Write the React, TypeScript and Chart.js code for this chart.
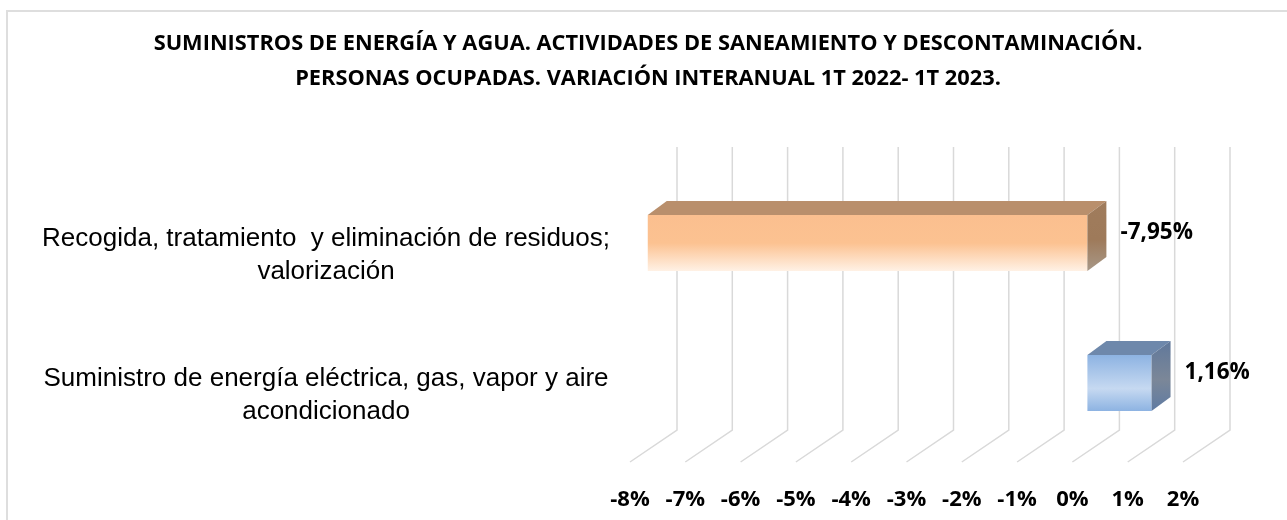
import React, { useEffect, useRef } from "react";
import { Chart, registerables } from "chart.js";

Chart.register(...registerables);

const titleLines = [
  "SUMINISTROS DE ENERGÍA Y AGUA. ACTIVIDADES DE SANEAMIENTO Y DESCONTAMINACIÓN.",
  "PERSONAS OCUPADAS. VARIACIÓN INTERANUAL 1T 2022- 1T 2023.",
];
const categories = [
  ["Recogida, tratamiento  y eliminación de residuos;", "valorización"],
  ["Suministro de energía eléctrica, gas, vapor y aire", "acondicionado"],
];
const values = [-7.95, 1.16];
const frontStops = [
  [[0, "#FBBF8F"], [0.5, "#FCC291"], [1, "#FFF1E5"]],
  [[0, "#8DB3E2"], [0.6, "#C6D9F1"], [1, "#8DB3E2"]],
];
const topColors = ["#B98F6C", "#6E88AB"];
const sideStops = [
  [[0, "#A07C5C"], [0.55, "#9E7A5A"], [1, "#A89888"]],
  [[0, "#60789B"], [0.55, "#7B8798"], [1, "#5F7BA3"]],
];
const gridColor = "#D9D9D9";
const fontBold = "'Open Sans', 'Noto Sans', sans-serif";
const DEPTH_X = 19;
const DEPTH_Y = 14;
const BAR_SHIFT_X = 15;
const BAR_SHIFT_Y = -12;

function grad(ctx: CanvasRenderingContext2D, y0: number, y1: number, stops: any[]) {
  const g = ctx.createLinearGradient(0, y0, 0, y1);
  stops.forEach(([o, c]) => g.addColorStop(o, c));
  return g;
}

const decor = {
  id: "decor",
  afterLayout(chart: any) {
    // let the long category labels run past the axis box instead of being clipped
    chart.scales.y.left = 0;
  },
  beforeDraw(chart: any) {
    const { ctx, width, height } = chart;
    ctx.save();
    ctx.strokeStyle = "#DEDEDE";
    ctx.lineWidth = 2;
    ctx.beginPath();
    ctx.moveTo(7, height);
    ctx.lineTo(7, 11);
    ctx.lineTo(width, 11);
    ctx.stroke();
    ctx.restore();
  },
  beforeDatasetsDraw(chart: any) {
    const { ctx, scales, chartArea } = chart;
    const floorFront = chartArea.bottom - 3;
    const floorBack = chartArea.bottom - 35;
    const wallTop = chartArea.top - 38;
    ctx.save();
    ctx.strokeStyle = gridColor;
    ctx.lineWidth = 1.5;
    scales.x.ticks.forEach((t: any) => {
      const x = scales.x.getPixelForValue(t.value);
      ctx.beginPath();
      ctx.moveTo(x, floorFront);
      ctx.lineTo(x + 47, floorBack);
      ctx.lineTo(x + 47, wallTop);
      ctx.stroke();
    });
    ctx.restore();
    ctx.save();
    ctx.translate(BAR_SHIFT_X, BAR_SHIFT_Y);
  },
  afterDatasetsDraw(chart: any) {
    const { ctx } = chart;
    const meta = chart.getDatasetMeta(0);
    meta.data.forEach((bar: any, i: number) => {
      const { x, y, base, height } = bar.getProps(["x", "y", "base", "height"], true);
      const l = Math.min(x, base);
      const r = Math.max(x, base);
      const t = y - height / 2;
      const b = y + height / 2;
      ctx.fillStyle = topColors[i];
      ctx.beginPath();
      ctx.moveTo(l, t);
      ctx.lineTo(l + DEPTH_X, t - DEPTH_Y);
      ctx.lineTo(r + DEPTH_X, t - DEPTH_Y);
      ctx.lineTo(r, t);
      ctx.closePath();
      ctx.fill();
      ctx.fillStyle = grad(ctx, t - DEPTH_Y, b, sideStops[i]);
      ctx.beginPath();
      ctx.moveTo(r, t);
      ctx.lineTo(r + DEPTH_X, t - DEPTH_Y);
      ctx.lineTo(r + DEPTH_X, b - DEPTH_Y);
      ctx.lineTo(r, b);
      ctx.closePath();
      ctx.fill();
      ctx.fillStyle = "#000000";
      ctx.font = `bold 22.5px ${fontBold}`;
      ctx.textAlign = "left";
      ctx.textBaseline = "middle";
      ctx.fillText(values[i].toFixed(2).replace(".", ",") + "%", r + 33, y - 10);
    });
    ctx.restore();
  },
};

export default function App() {
  const ref = useRef<HTMLCanvasElement>(null);
  useEffect(() => {
    const chart = new Chart(ref.current as HTMLCanvasElement, {
      type: "bar",
      plugins: [decor],
      data: {
        labels: categories as any,
        datasets: [
          {
            data: values,
            categoryPercentage: 1,
            barPercentage: 0.4,
            clip: false as any,
            borderWidth: 0,
            backgroundColor: (c: any) => {
              const s = c.chart.scales?.y;
              if (!s || c.dataIndex === undefined) return "#FBBF8F";
              const y = s.getPixelForValue(c.dataIndex);
              if (!Number.isFinite(y)) return "#FBBF8F";
              return grad(c.chart.ctx, y - 28, y + 28, frontStops[c.dataIndex]);
            },
          },
        ],
      },
      options: {
        indexAxis: "y",
        responsive: false,
        animation: false,
        layout: { padding: { left: 113, right: 104, top: 0, bottom: 0 } },
        plugins: {
          legend: { display: false },
          tooltip: { enabled: false },
          title: {
            display: true,
            text: titleLines,
            color: "#000000",
            font: { family: fontBold, size: 21.8, weight: "bold", lineHeight: 35 / 21.8 },
            padding: { top: 26, bottom: 89 },
          },
        },
        scales: {
          x: {
            type: "linear",
            min: -8,
            max: 2,
            grid: { display: false },
            border: { display: false },
            afterFit: (s: any) => {
              s.height = 55;
            },
            ticks: {
              stepSize: 1,
              autoSkip: false,
              maxRotation: 0,
              padding: 14,
              color: "#000000",
              font: { family: fontBold, size: 22, weight: "bold" },
              callback: (v: any) => v + "%",
            },
          },
          y: {
            type: "category",
            grid: { display: false },
            border: { display: false },
            afterFit: (s: any) => {
              s.width = 517;
            },
            ticks: {
              crossAlign: "center",
              padding: 12,
              color: "#000000",
              font: { family: "'Liberation Sans', Arial, sans-serif", size: 26, lineHeight: 33 / 26 },
            },
          },
        },
      } as any,
    });
    chart.update();
    return () => chart.destroy();
  }, []);
  return (
    <div style={{ position: "fixed", left: 0, top: 0, width: 1287, height: 520, background: "#fff" }}>
      <canvas ref={ref} width={1287} height={520} style={{ display: "block" }} />
    </div>
  );
}
